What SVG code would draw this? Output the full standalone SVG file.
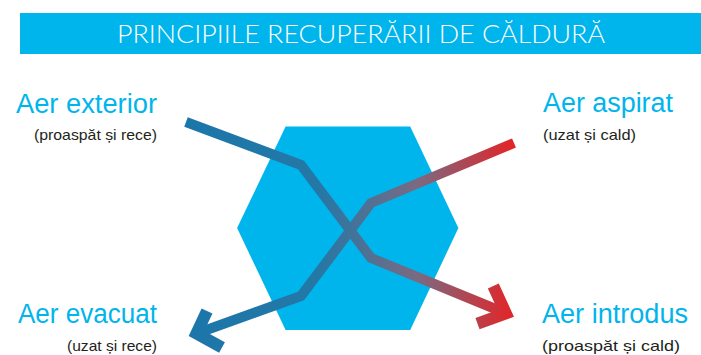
<svg xmlns="http://www.w3.org/2000/svg" width="701" height="355" viewBox="0 0 701 355">
<defs>
<linearGradient id="g" gradientUnits="userSpaceOnUse" x1="186" y1="0" x2="516" y2="0">
<stop offset="0" stop-color="#1c76aa"/>
<stop offset="0.4" stop-color="#2478a6"/>
<stop offset="0.7" stop-color="#7a6a82"/>
<stop offset="1" stop-color="#e52325"/>
</linearGradient>
<style>
.title{font-family:Lato,"Liberation Sans",sans-serif;font-weight:300;font-size:26px;fill:#ffffff}
.lbl{font-family:"Liberation Sans",Arial,sans-serif;font-size:27px;fill:#00b5ec}
.sub{font-family:"Liberation Sans",Arial,sans-serif;font-size:15px;fill:#231f20}
.arr{fill:none;stroke:url(#g);stroke-width:10;stroke-linejoin:miter;stroke-miterlimit:10;stroke-linecap:butt}
.head{fill:none;stroke:url(#g);stroke-width:12;stroke-linejoin:miter;stroke-miterlimit:10;stroke-linecap:butt}
</style>
</defs>
<g id="banner">
<rect x="20" y="13" width="681" height="41" fill="#00b5ec"/>
<text class="title" x="117" y="43" textLength="488" lengthAdjust="spacingAndGlyphs">PRINCIPIILE RECUPERĂRII DE CĂLDURĂ</text>
</g>
<g id="exchanger">
<polygon points="285.6,126.6 410.2,126.6 458.4,228 410.2,330 285.6,330 237.1,228" fill="#00b5ec"/>
</g>
<g id="connectors">
<g id="extract-flow">
<path class="arr" d="M514,143 L371,203 L301,296 L198,333"/>
<polyline class="head" points="207,311 196.5,333.5 222,347.5"/>
</g>
<g id="supply-flow">
<path class="arr" d="M186,122 L301,165 L371,258 L504,312.5"/>
<polyline class="head" points="493.3,286 505.8,313.3 477.5,323.7"/>
</g>
</g>
<g id="aer-exterior">
<text class="lbl" x="157" y="113" text-anchor="end" textLength="141" lengthAdjust="spacingAndGlyphs">Aer exterior</text>
<text class="sub" x="157" y="140" text-anchor="end" textLength="123" lengthAdjust="spacingAndGlyphs">(proaspăt și rece)</text>
</g>
<g id="aer-aspirat">
<text class="lbl" x="543" y="112" textLength="130" lengthAdjust="spacingAndGlyphs">Aer aspirat</text>
<text class="sub" x="543" y="140" textLength="93" lengthAdjust="spacingAndGlyphs">(uzat și cald)</text>
</g>
<g id="aer-evacuat">
<text class="lbl" x="157" y="323" text-anchor="end" textLength="139" lengthAdjust="spacingAndGlyphs">Aer evacuat</text>
<text class="sub" x="157" y="351" text-anchor="end" textLength="90" lengthAdjust="spacingAndGlyphs">(uzat și rece)</text>
</g>
<g id="aer-introdus">
<text class="lbl" x="542" y="323" textLength="146" lengthAdjust="spacingAndGlyphs">Aer introdus</text>
<text class="sub" x="542" y="351" textLength="138" lengthAdjust="spacingAndGlyphs">(proaspăt și cald)</text>
</g>
</svg>
